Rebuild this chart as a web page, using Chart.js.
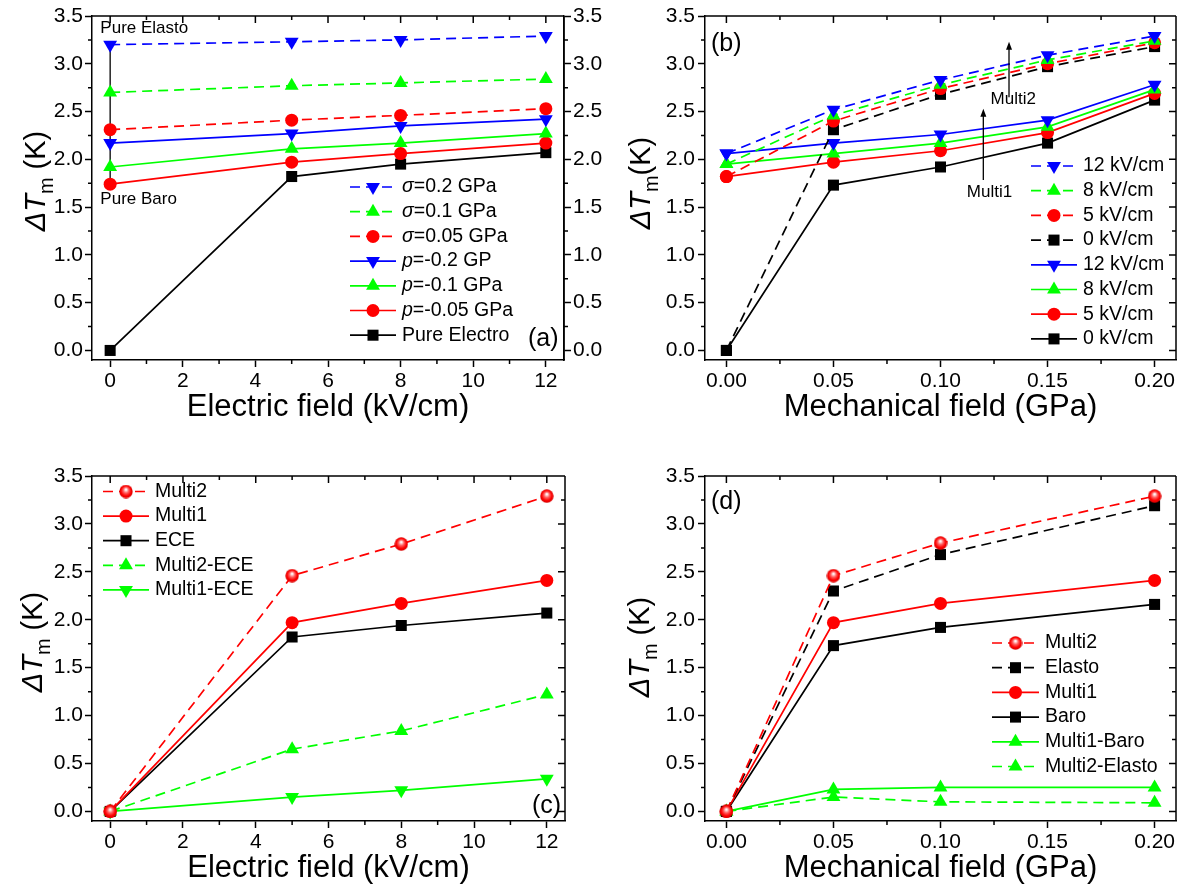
<!DOCTYPE html>
<html>
<head>
<meta charset="utf-8">
<script src="https://cdn.jsdelivr.net/npm/chart.js@4.4.1/dist/chart.umd.min.js"></script>
<style>
  html, body { margin: 0; padding: 0; background: #fff; }
  #wrap { position: relative; width: 1184px; height: 892px; }
  canvas { position: absolute; }
</style>
</head>
<body>
<div id="wrap">
  <canvas id="chartA" width="610" height="446" style="left:0;top:0"></canvas>
  <canvas id="chartB" width="574" height="446" style="left:610px;top:0"></canvas>
  <canvas id="chartC" width="610" height="446" style="left:0;top:446px"></canvas>
  <canvas id="chartD" width="574" height="446" style="left:610px;top:446px"></canvas>
</div>
<script>
// ---- data ----
// (a) electric field sweep at fixed mechanical field
const eField = [0, 5, 8, 12];
const aSig02 = [3.20, 3.23, 3.25, 3.29];
const aSig01 = [2.70, 2.77, 2.80, 2.84];
const aSig005 = [2.31, 2.41, 2.46, 2.53];
const aP02 = [2.17, 2.27, 2.35, 2.42];
const aP01 = [1.92, 2.11, 2.17, 2.27];
const aP005 = [1.74, 1.97, 2.06, 2.17];
const aElectro = [0, 1.82, 1.95, 2.07];
const aPureBar = [1.72, 3.20]; // vertical marker at E = 0

// (b) mechanical field sweep at fixed electric field
const mField = [0, 0.05, 0.10, 0.15, 0.20];
const bM2_12 = [2.06, 2.52, 2.83, 3.09, 3.29];
const bM2_8 = [1.95, 2.46, 2.78, 3.04, 3.24];
const bM2_5 = [1.82, 2.40, 2.74, 3.00, 3.22];
const bM2_0 = [0, 2.31, 2.68, 2.97, 3.18];
const bM1_12 = [2.06, 2.17, 2.26, 2.41, 2.78];
const bM1_8 = [1.95, 2.06, 2.17, 2.34, 2.73];
const bM1_5 = [1.82, 1.97, 2.09, 2.28, 2.69];
const bM1_0 = [0, 1.73, 1.92, 2.17, 2.62];

// (c)
const cMulti2 = [0, 2.46, 2.79, 3.29];
const cMulti1 = [0, 1.97, 2.17, 2.41];
const cECE = [0, 1.82, 1.94, 2.07];
const cM2ECE = [0, 0.65, 0.84, 1.22];
const cM1ECE = [0, 0.15, 0.22, 0.34];

// (d)
const dField = [0, 0.05, 0.10, 0.20];
const dMulti2 = [0, 2.46, 2.80, 3.29];
const dElasto = [0, 2.30, 2.68, 3.19];
const dMulti1 = [0, 1.97, 2.17, 2.41];
const dBaro = [0, 1.73, 1.92, 2.16];
const dM1Baro = [0, 0.23, 0.25, 0.25];
const dM2Elasto = [0, 0.15, 0.10, 0.09];

// ---- styling ----
const FONT = "'Liberation Sans', Arial, sans-serif";
const BLUE = '#0000ff', GREEN = '#00ff00', RED = '#ff0000', BLACK = '#000000';
const DASH = [10, 6];
const TICK = 21, LEG = 19.5;

// shaded red ball used for Multi2
const ball = document.createElement('canvas');
ball.width = 14; ball.height = 14;
(function () {
  const g = ball.getContext('2d');
  const grad = g.createRadialGradient(7, 5, 0.5, 7, 7, 7);
  grad.addColorStop(0, '#ffffff');
  grad.addColorStop(0.35, '#ff6060');
  grad.addColorStop(0.7, '#ff0000');
  grad.addColorStop(1, '#d00000');
  g.fillStyle = grad;
  g.beginPath(); g.arc(7, 7, 6.7, 0, Math.PI * 2); g.fill();
})();

const DOWN = { s: 'triangle', r: 180, rad: 8 };
const UP = { s: 'triangle', r: 0, rad: 8 };
const DOT = { s: 'circle', r: 0, rad: 6.5 };
const SQ = { s: 'rect', r: 0, rad: 7.8 };
const BALL = { s: ball, r: 0, rad: 7 };

function pts(xs, ys) { return xs.map((x, i) => ({ x: x, y: ys[i] })); }

function series(label, xs, ys, color, mk, dashed) {
  return {
    label: label, data: pts(xs, ys),
    borderColor: color, backgroundColor: color, borderWidth: 1.7,
    borderDash: dashed ? DASH : [],
    pointStyle: mk.s, rotation: mk.r, pointRadius: mk.rad,
    pointBackgroundColor: color, pointBorderColor: color, pointBorderWidth: 0,
    tension: 0, fill: false
  };
}

function xScale(min, max, step, digits, height, title, titlePad) {
  return {
    type: 'linear', position: 'bottom', min: min, max: max,
    ticks: {
      stepSize: step, includeBounds: false, autoSkip: false, maxRotation: 0, padding: 2,
      color: '#000', font: { family: FONT, size: TICK },
      callback: v => v.toFixed(digits)
    },
    grid: { drawOnChartArea: false, tickLength: 7, tickWidth: 1.5, tickColor: '#000' },
    border: { color: '#000', width: 1.5 },
    title: { display: true, text: title, color: '#000', font: { family: FONT, size: 31 },
      padding: { top: 0, bottom: titlePad } },
    afterFit: s => { s.height = height; }
  };
}

function yScale(pos, width, pad) {
  return {
    type: 'linear', position: pos, min: -0.1, max: 3.5,
    ticks: {
      stepSize: 0.5, includeBounds: false, padding: pad,
      color: '#000', font: { family: FONT, size: TICK },
      callback: v => v.toFixed(1)
    },
    grid: { drawOnChartArea: false, tickLength: 7, tickWidth: 1.5, tickColor: '#000' },
    border: { color: '#000', width: 1.5 },
    afterFit: s => { s.width = width; }
  };
}

function minors(scale) {
  const t = scale.ticks.map(k => k.value);
  const step = t[1] - t[0];
  const out = [t[0] - step / 2];
  t.forEach(v => out.push(v + step / 2));
  return out.filter(v => v > scale.min && v < scale.max);
}

// box border, mirrored and minor ticks
const framePlugin = {
  id: 'frame',
  afterDraw(chart, args, o) {
    const { ctx, chartArea: a, scales } = chart;
    const xs = scales.x, ys = scales.y;
    ctx.save();
    ctx.strokeStyle = '#000'; ctx.lineWidth = 1.5;
    ctx.beginPath();
    ctx.moveTo(a.left, a.top); ctx.lineTo(a.right, a.top);
    ctx.moveTo(a.right, a.top); ctx.lineTo(a.right, a.bottom);
    xs.ticks.forEach(k => {
      const p = xs.getPixelForValue(k.value);
      ctx.moveTo(p, a.top); ctx.lineTo(p, a.top + 7);
    });
    minors(xs).forEach(v => {
      const p = xs.getPixelForValue(v);
      ctx.moveTo(p, a.bottom); ctx.lineTo(p, a.bottom + 4);
      ctx.moveTo(p, a.top); ctx.lineTo(p, a.top + 4);
    });
    ys.ticks.forEach(k => {
      const p = ys.getPixelForValue(k.value);
      if (!o.rightOut) { ctx.moveTo(a.right, p); ctx.lineTo(a.right - 7, p); }
    });
    minors(ys).forEach(v => {
      const p = ys.getPixelForValue(v);
      ctx.moveTo(a.left, p); ctx.lineTo(a.left - 4, p);
      if (o.rightOut) { ctx.moveTo(a.right, p); ctx.lineTo(a.right + 4, p); }
      else { ctx.moveTo(a.right, p); ctx.lineTo(a.right - 4, p); }
    });
    ctx.stroke();
    ctx.restore();
  }
};

// legend drawn inside the plot box
const boxLegend = {
  id: 'boxLegend',
  afterDraw(chart, args, o) {
    const ctx = chart.ctx;
    const items = chart.data.datasets.filter(d => !d.hideInLegend);
    items.forEach((d, i) => {
      const y = o.y + i * o.dy;
      ctx.save();
      ctx.strokeStyle = d.borderColor; ctx.lineWidth = d.borderWidth;
      ctx.setLineDash(d.borderDash || []);
      ctx.beginPath(); ctx.moveTo(o.x, y); ctx.lineTo(o.x + o.len, y); ctx.stroke();
      ctx.setLineDash([]);
      ctx.fillStyle = d.pointBackgroundColor; ctx.strokeStyle = d.pointBackgroundColor;
      Chart.helpers.drawPoint(ctx, { pointStyle: d.pointStyle, rotation: d.rotation,
        radius: d.pointRadius, borderWidth: 0 }, o.x + o.len / 2, y);
      ctx.fillStyle = '#000'; ctx.textBaseline = 'middle'; ctx.textAlign = 'left';
      let tx = o.x + o.len + o.gap;
      const m = /^([σp])(=.*)$/.exec(d.label);
      if (m) {
        ctx.font = 'italic ' + o.size + 'px ' + FONT;
        ctx.fillText(m[1], tx, y);
        tx += ctx.measureText(m[1]).width;
        ctx.font = o.size + 'px ' + FONT;
        ctx.fillText(m[2], tx, y);
      } else {
        ctx.font = o.size + 'px ' + FONT;
        ctx.fillText(d.label, tx, y);
      }
      ctx.restore();
    });
  }
};

// rotated ΔT_m (K) axis title
const yTitle = {
  id: 'yTitle',
  afterDraw(chart, args, o) {
    const ctx = chart.ctx;
    const big = 29, small = 20;
    const parts = [
      ['ΔT', 'italic ' + big + 'px ' + FONT, 0],
      ['m', small + 'px ' + FONT, 8],
      [o.space ? ' (K)' : '(K)', big + 'px ' + FONT, 0]
    ];
    ctx.save();
    let w = 0;
    parts.forEach(p => { ctx.font = p[1]; p.push(ctx.measureText(p[0]).width); w += p[3]; });
    ctx.translate(o.cx, o.cy);
    ctx.rotate(-Math.PI / 2);
    ctx.fillStyle = '#000'; ctx.textBaseline = 'alphabetic'; ctx.textAlign = 'left';
    let x = -w / 2;
    parts.forEach(p => { ctx.font = p[1]; ctx.fillText(p[0], x, 10 + p[2]); x += p[3]; });
    ctx.restore();
  }
};

function panelText(ctx, text, x, y, size) {
  ctx.save();
  ctx.fillStyle = '#000'; ctx.font = size + 'px ' + FONT;
  ctx.textBaseline = 'middle'; ctx.textAlign = 'left';
  ctx.fillText(text, x, y);
  ctx.restore();
}

function arrow(ctx, x, y0, y1) {
  ctx.save();
  ctx.strokeStyle = '#000'; ctx.fillStyle = '#000'; ctx.lineWidth = 1.3;
  ctx.beginPath(); ctx.moveTo(x, y0); ctx.lineTo(x, y1 + 5); ctx.stroke();
  ctx.beginPath(); ctx.moveTo(x, y1); ctx.lineTo(x - 3, y1 + 8); ctx.lineTo(x + 3, y1 + 8); ctx.closePath(); ctx.fill();
  ctx.restore();
}

function baseOptions(pad, scales, plug) {
  return {
    responsive: false, animation: false, events: [],
    layout: { padding: pad },
    scales: scales,
    plugins: Object.assign({ legend: { display: false }, tooltip: { enabled: false } }, plug)
  };
}

// ---- (a) ----
const pureBar = {
  label: '', data: pts([0, 0], aPureBar), borderColor: BLACK, borderWidth: 1.3,
  pointRadius: 0, tension: 0, hideInLegend: true
};
new Chart(document.getElementById('chartA'), {
  type: 'line',
  data: {
    datasets: [
      series('σ=0.2 GPa', eField, aSig02, BLUE, DOWN, true),
      series('σ=0.1 GPa', eField, aSig01, GREEN, UP, true),
      series('σ=0.05 GPa', eField, aSig005, RED, DOT, true),
      series('p=-0.2 GP', eField, aP02, BLUE, DOWN, false),
      series('p=-0.1 GPa', eField, aP01, GREEN, UP, false),
      series('p=-0.05 GPa', eField, aP005, RED, DOT, false),
      series('Pure Electro', eField, aElectro, BLACK, SQ, false),
      pureBar
    ]
  },
  options: baseOptions({ top: 16, right: 0 }, {
    x: xScale(-0.5, 12.5, 2, 0, 86, 'Electric field (kV/cm)', 20),
    y: yScale('left', 92, 2),
    y2: yScale('right', 46, 2)
  }, {
    frame: { rightOut: true },
    boxLegend: { x: 350, y: 187, dy: 24.7, len: 46, gap: 6, size: LEG },
    yTitle: { cx: 35, cy: 181, space: true }
  }),
  plugins: [framePlugin, boxLegend, yTitle, {
    id: 'notesA',
    afterDraw(chart) {
      const { ctx, scales: { x, y } } = chart;
      panelText(ctx, 'Pure Elasto', x.getPixelForValue(-0.27), y.getPixelForValue(3.375), 17);
      panelText(ctx, 'Pure Baro', x.getPixelForValue(-0.27), y.getPixelForValue(1.58), 17);
      panelText(ctx, '(a)', 528, 339, 25);
    }
  }]
});

// ---- (b) ----
new Chart(document.getElementById('chartB'), {
  type: 'line',
  data: {
    datasets: [
      series('12 kV/cm', mField, bM2_12, BLUE, DOWN, true),
      series('8 kV/cm', mField, bM2_8, GREEN, UP, true),
      series('5 kV/cm', mField, bM2_5, RED, DOT, true),
      series('0 kV/cm', mField, bM2_0, BLACK, SQ, true),
      series('12 kV/cm', mField, bM1_12, BLUE, DOWN, false),
      series('8 kV/cm', mField, bM1_8, GREEN, UP, false),
      series('5 kV/cm', mField, bM1_5, RED, DOT, false),
      series('0 kV/cm', mField, bM1_0, BLACK, SQ, false)
    ]
  },
  options: baseOptions({ top: 16, right: 3 }, {
    x: xScale(-0.01, 0.21, 0.05, 2, 86, 'Mechanical field (GPa)', 20),
    y: yScale('left', 95, 3)
  }, {
    frame: { rightOut: false },
    boxLegend: { x: 421, y: 166, dy: 24.7, len: 46, gap: 6, size: LEG },
    yTitle: { cx: 30, cy: 183, space: false }
  }),
  plugins: [framePlugin, boxLegend, yTitle, {
    id: 'notesB',
    afterDraw(chart) {
      const { ctx, scales: { x, y } } = chart;
      arrow(ctx, x.getPixelForValue(0.12), y.getPixelForValue(1.785), y.getPixelForValue(2.53));
      arrow(ctx, x.getPixelForValue(0.132), y.getPixelForValue(2.65), y.getPixelForValue(3.23));
      ctx.save();
      ctx.fillStyle = '#000'; ctx.font = '17px ' + FONT; ctx.textAlign = 'center'; ctx.textBaseline = 'middle';
      ctx.fillText('Multi1', x.getPixelForValue(0.1229), y.getPixelForValue(1.66));
      ctx.fillText('Multi2', x.getPixelForValue(0.134), y.getPixelForValue(2.63));
      ctx.restore();
      panelText(ctx, '(b)', 101, 44, 25);
    }
  }]
});

// ---- (c) ----
new Chart(document.getElementById('chartC'), {
  type: 'line',
  data: {
    datasets: [
      series('Multi2', eField, cMulti2, RED, BALL, true),
      series('Multi1', eField, cMulti1, RED, DOT, false),
      series('ECE', eField, cECE, BLACK, SQ, false),
      series('Multi2-ECE', eField, cM2ECE, GREEN, UP, true),
      series('Multi1-ECE', eField, cM1ECE, GREEN, DOWN, false)
    ]
  },
  options: baseOptions({ top: 30, right: 45 }, {
    x: xScale(-0.5, 12.5, 2, 0, 71, 'Electric field (kV/cm)', 5),
    y: yScale('left', 92, 2)
  }, {
    frame: { rightOut: false },
    boxLegend: { x: 103, y: 45.5, dy: 24.6, len: 46, gap: 6, size: LEG },
    yTitle: { cx: 32, cy: 196, space: true }
  }),
  plugins: [framePlugin, boxLegend, yTitle, {
    id: 'notesC',
    afterDraw(chart) { panelText(chart.ctx, '(c)', 532, 360, 25); }
  }]
});

// ---- (d) ----
new Chart(document.getElementById('chartD'), {
  type: 'line',
  data: {
    datasets: [
      series('Multi2', dField, dMulti2, RED, BALL, true),
      series('Elasto', dField, dElasto, BLACK, SQ, true),
      series('Multi1', dField, dMulti1, RED, DOT, false),
      series('Baro', dField, dBaro, BLACK, SQ, false),
      series('Multi1-Baro', dField, dM1Baro, GREEN, UP, false),
      series('Multi2-Elasto', dField, dM2Elasto, GREEN, UP, true)
    ]
  },
  options: baseOptions({ top: 30, right: 3 }, {
    x: xScale(-0.01, 0.21, 0.05, 2, 71, 'Mechanical field (GPa)', 5),
    y: yScale('left', 95, 3)
  }, {
    frame: { rightOut: false },
    boxLegend: { x: 382, y: 197, dy: 24.7, len: 47, gap: 6, size: LEG },
    yTitle: { cx: 29, cy: 201, space: true }
  }),
  plugins: [framePlugin, boxLegend, yTitle, {
    id: 'notesD',
    afterDraw(chart) { panelText(chart.ctx, '(d)', 101, 56, 25); }
  }]
});
</script>
</body>
</html>
